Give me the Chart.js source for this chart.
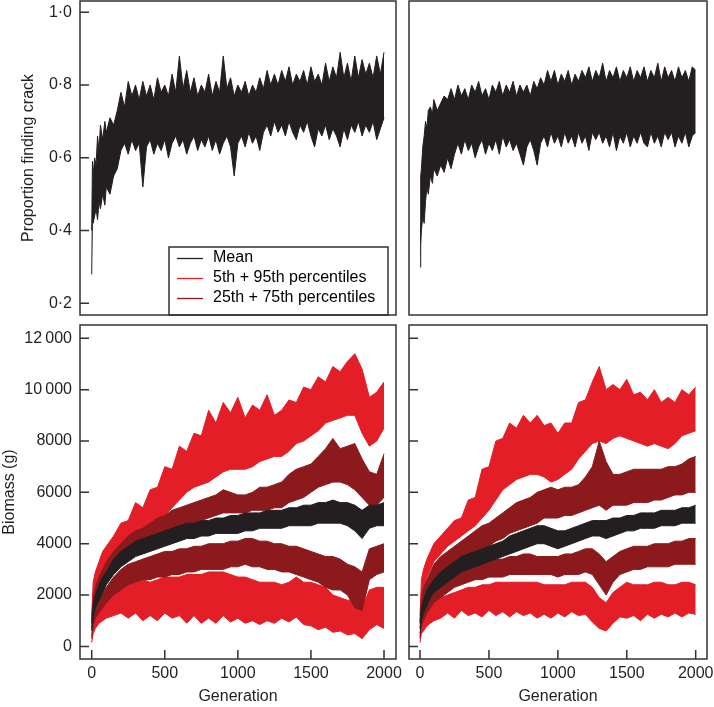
<!DOCTYPE html>
<html>
<head>
<meta charset="utf-8">
<script src="https://cdn.jsdelivr.net/npm/chart.js@4.4.1/dist/chart.umd.min.js"></script>
<style>
  html, body { margin: 0; padding: 0; background: #fff; overflow: hidden; }
  #wrap { position: relative; width: 714px; height: 707px; }
  #wrap canvas { position: absolute; left: 0; top: 0; }
</style>
</head>
<body>
<div id="wrap">
  <canvas id="topLeft" width="714" height="707"></canvas>
  <canvas id="topRight" width="714" height="707"></canvas>
  <canvas id="bottomLeft" width="714" height="707"></canvas>
  <canvas id="bottomRight" width="714" height="707"></canvas>
</div>
<script>
var proportionGenerations = [0,5,10,20,30,40,50,60,75,90,100,125,150,175,
	200,225,250,275,300,325,350,375,400,425, 450,475,500,525,550,575,600,625,650,675,
	700,725,750,775,800,825,850,875,900,925, 950,975,1000,1025,1050,1075,1100,1125,1150,1175,
	1200,1225,1250,1275,1300,1325,1350,1375,1400,1425, 1450,1475,1500,1525,1550,1575,1600,1625,1650,1675,
	1700,1725,1750,1775,1800,1825,1850,1875,1900,1925, 1950,1975,2000];

// proportion finding crack (mean), lower / upper edge of the noisy trace
var tlMeanLow = [0.28,0.43,0.42,0.44,0.46,0.43,0.48,0.46,0.50,0.47,0.52,0.50,0.55,0.57,
	0.62,0.64,0.61,0.65,0.62,0.64,0.52,0.63,0.65,0.61, 0.64,0.62,0.65,0.60,0.64,0.66,0.63,0.65,0.61,0.64,
	0.66,0.62,0.65,0.63,0.66,0.62,0.65,0.61,0.64,0.66, 0.63,0.55,0.64,0.66,0.63,0.67,0.64,0.66,0.62,0.67,
	0.69,0.66,0.70,0.67,0.69,0.66,0.70,0.67,0.65,0.69, 0.67,0.70,0.66,0.63,0.68,0.66,0.69,0.65,0.68,0.66,
	0.63,0.68,0.65,0.69,0.67,0.70,0.66,0.69,0.67,0.70, 0.65,0.68,0.71];
var tlMeanHigh = [0.40,0.59,0.55,0.60,0.58,0.66,0.62,0.69,0.65,0.70,0.67,0.71,0.69,0.73,
	0.78,0.74,0.81,0.77,0.80,0.76,0.81,0.77,0.80,0.76, 0.82,0.78,0.80,0.77,0.83,0.78,0.88,0.79,0.84,0.78,
	0.82,0.77,0.80,0.78,0.83,0.77,0.81,0.78,0.88,0.79, 0.82,0.77,0.80,0.78,0.81,0.77,0.80,0.78,0.82,0.79,
	0.84,0.80,0.83,0.80,0.84,0.81,0.85,0.80,0.83,0.81, 0.84,0.80,0.85,0.81,0.83,0.80,0.86,0.81,0.85,0.82,
	0.89,0.82,0.86,0.81,0.88,0.82,0.87,0.83,0.86,0.82, 0.88,0.83,0.89];
var trMeanLow = [0.30,0.36,0.40,0.44,0.42,0.48,0.52,0.50,0.55,0.53,0.57,0.55,0.58,0.56,
	0.60,0.57,0.61,0.64,0.61,0.65,0.62,0.64,0.60,0.63, 0.65,0.61,0.64,0.62,0.65,0.61,0.66,0.63,0.65,0.62,
	0.64,0.61,0.58,0.63,0.65,0.62,0.58,0.64,0.66,0.63, 0.67,0.64,0.66,0.63,0.67,0.64,0.66,0.63,0.67,0.64,
	0.66,0.62,0.67,0.65,0.67,0.64,0.66,0.63,0.67,0.62, 0.66,0.64,0.67,0.63,0.66,0.64,0.67,0.64,0.63,0.67,
	0.64,0.66,0.63,0.67,0.65,0.67,0.63,0.66,0.64,0.67, 0.63,0.66,0.67];
var trMeanHigh = [0.42,0.55,0.57,0.63,0.66,0.70,0.68,0.73,0.74,0.72,0.76,0.73,0.75,0.77,
	0.76,0.79,0.76,0.80,0.77,0.79,0.76,0.80,0.78,0.81, 0.77,0.79,0.76,0.80,0.78,0.81,0.77,0.80,0.78,0.81,
	0.77,0.80,0.78,0.80,0.77,0.81,0.79,0.82,0.80,0.84, 0.81,0.84,0.80,0.83,0.81,0.84,0.80,0.83,0.81,0.84,
	0.82,0.85,0.81,0.84,0.82,0.86,0.81,0.84,0.82,0.85, 0.81,0.84,0.82,0.85,0.81,0.84,0.82,0.85,0.81,0.84,
	0.82,0.86,0.81,0.85,0.82,0.84,0.81,0.85,0.82,0.84, 0.81,0.85,0.84];

var generations = [0,10,25,50,75,100,150, 200,250,300,350,400,450,500,550,600,650, 700,750,800,850,900,950,1000,1050,1100,1150, 1200,1250,1300,1350,1400,1450,1500,1550,1600,1650, 1700,1750,1800,1850,1900,1950,2000];

// biomass (g), left panel
var blP95Low  = [900,1700,2100,2500,2800,3000,3600, 3900,4200,4400,4600,4700,4900,5100,5400,5700,6000, 6200,6300,6400,6600,6800,6900,6900,6900,7000,7200, 7300,7400,7400,7600,7900,8000,8200,8400,8700,8800, 8900,9000,9000,8300,7800,8000,8500];
var blP95High = [1200,2500,2900,3300,3700,3900,4300, 4800,4900,5600,5400,6100,6200,7000,6900,7800,7600, 8300,8200,9200,8700,9500,9100,9700,8900,9400,9200, 9800,9000,9200,9600,9500,10100,10000,10500,10300,10900, 10700,11100,11400,10800,9700,9900,10300];
var blP75Low  = [700,1300,1700,2100,2300,2600,3000, 3300,3500,3700,3900,4000,4200,4300,4500,4600,4700, 4800,4900,5000,5100,5200,5200,5200,5200,5300,5300, 5300,5400,5400,5600,5700,5800,6000,6200,6300,6400, 6400,6300,6100,5800,5500,5500,5800];
var blP75High = [1000,1900,2300,2700,3000,3300,3700, 4000,4300,4500,4600,4800,5000,5100,5300,5400,5500, 5600,5700,5800,5900,6100,6000,5900,5900,6000,6200, 6200,6300,6400,6700,6900,7000,7100,7400,7700,8100, 7700,7800,7900,7300,6800,6700,7500];
var blMeanLow  = [600,1100,1500,1800,2100,2400,2800, 3100,3300,3500,3600,3700,3800,3900,4000,4100,4200, 4200,4300,4300,4400,4400,4400,4400,4500,4500,4600, 4600,4600,4600,4700,4700,4700,4700,4800,4800,4800, 4800,4700,4500,4200,4600,4700,4700];
var blMeanHigh = [900,1600,2000,2400,2700,2900,3400, 3700,3900,4100,4200,4300,4400,4500,4600,4700,4800, 4800,4900,4900,5000,5000,5100,5100,5200,5200,5200, 5300,5300,5300,5400,5400,5500,5500,5600,5600,5700, 5600,5600,5500,5300,5500,5500,5600];
var blP25Low  = [300,800,1100,1300,1500,1700,2000, 2200,2400,2500,2600,2600,2700,2700,2800,2800,2900, 2900,3000,3000,3000,3000,3100,3100,3200,3100,3100, 3000,3000,2900,2900,2800,2700,2600,2500,2300,2200, 2200,2000,1500,1400,2600,2800,2900];
var blP25High = [700,1300,1600,1900,2100,2300,2700, 3000,3200,3300,3400,3500,3600,3700,3700,3800,3800, 3900,3900,4000,4000,4000,4100,4100,4200,4200,4100, 4100,4000,4000,3900,3900,3800,3700,3600,3500,3500, 3400,3200,3100,2900,3800,3900,4000];
var blP5Low  = [150,500,700,900,1000,1100,1200, 1300,1100,1300,1000,1200,1000,1300,1100,1200,900, 1200,900,1100,900,1200,950,1100,900,1000,850, 1000,900,1100,950,1150,850,800,650,750,550, 600,450,500,300,650,850,700];
var blP5High = [400,1000,1300,1600,1800,2000,2200, 2300,2400,2500,2600,2500,2600,2700,2700,2700,2800, 2800,2800,2900,2900,2900,2800,2700,2700,2600,2500, 2500,2500,2400,2500,2700,2500,2500,2400,2300,2000, 1900,1800,1800,1500,2200,2300,2300];

// biomass (g), right panel
var brP95Low  = [900,1800,2300,2700,3000,3300,3600, 3900,4100,4300,4500,4700,5000,5300,5700,6100,6300, 6500,6600,6700,6700,6600,6400,6500,6700,6900,7300, 7600,7900,8000,7900,8100,8200,8100,8000,7900,7800, 7900,7800,7700,7900,8200,8300,8400];
var brP95High = [1200,2600,3000,3400,3700,4000,4300, 4600,4900,5000,5700,5800,6900,7000,8000,8100,8700, 8500,9000,8700,9000,8600,8700,8300,8700,8700,9500, 9600,10300,10900,10000,10200,10000,10400,9800,9900,9600, 10000,9500,9700,9500,10000,9800,10100];
var brP75Low  = [700,1300,1700,2000,2300,2500,2800, 3000,3200,3400,3500,3700,3800,3900,4100,4200,4400, 4500,4600,4700,4800,5000,5000,5000,5100,5100,5200, 5300,5400,5500,5300,5500,5500,5500,5600,5600,5600, 5700,5700,5800,5900,5900,6000,6000];
var brP75High = [1000,1900,2300,2600,2900,3200,3500, 3700,3900,4100,4300,4500,4700,4800,5000,5200,5400, 5600,5700,5800,6000,6100,6200,6100,6200,6200,6300, 6600,7000,8000,7200,6700,6700,6800,6900,6900,6900, 6900,6900,7000,7000,7100,7300,7400];
var brMeanLow  = [500,1000,1300,1600,1900,2100,2300, 2500,2700,2900,3000,3100,3200,3300,3400,3500,3600, 3700,3800,3900,4000,4000,3900,3800,3900,4000,4100, 4200,4300,4300,4200,4300,4400,4500,4500,4600,4600, 4600,4700,4700,4700,4800,4800,4800];
var brMeanHigh = [900,1500,1800,2200,2400,2600,2900, 3100,3300,3500,3600,3700,3800,3900,4000,4100,4300, 4400,4500,4600,4700,4700,4600,4500,4500,4600,4700, 4800,4900,4900,4900,5000,5000,5100,5100,5200,5200, 5200,5300,5300,5300,5400,5400,5500];
var brP25Low  = [300,800,1000,1300,1500,1700,1900, 2100,2300,2400,2500,2600,2600,2700,2700,2700,2800, 2800,2800,2800,2800,2800,2800,2700,2800,2800,2800, 2900,2800,2400,2000,2500,2800,2900,3000,3000,3100, 3100,3100,3100,3200,3200,3200,3200];
var brP25High = [700,1200,1500,1800,2000,2200,2500, 2700,2900,3000,3100,3200,3300,3400,3400,3400,3500, 3500,3600,3600,3500,3500,3500,3500,3600,3600,3700, 3800,3800,3600,3300,3500,3700,3800,3900,3900,3900, 4000,4000,4000,4100,4100,4200,4200];
var brP5Low  = [150,500,600,800,900,1000,1100, 1300,1100,1400,1200,1300,1150,1400,1200,1350,1150, 1350,1200,1300,1100,1250,1100,1300,1150,1350,1200, 1250,950,700,600,900,1150,1100,1200,1000,1250, 1100,1250,1150,1300,1150,1300,1250];
var brP5High = [400,900,1100,1400,1600,1700,1900, 2000,2100,2200,2300,2300,2400,2400,2500,2500,2500, 2500,2500,2500,2500,2400,2400,2400,2400,2500,2500, 2500,2300,1900,1700,2100,2300,2500,2400,2400,2400, 2500,2500,2400,2400,2500,2500,2400];

// axes
var proportionTicks = [0.2, 0.4, 0.6, 0.8, 1.0];
var proportionTickLabels = ['0·2', '0·4', '0·6', '0·8', '1·0'];
var biomassTicks = [0, 2000, 4000, 6000, 8000, 10000, 12000];
var biomassTickLabels = ['0', '2000', '4000', '6000', '8000', '10\u2009000', '12\u2009000'];
var generationTicks = [0, 500, 1000, 1500, 2000];
var generationTickLabels = ['0', '500', '1000', '1500', '2000'];

var legendLabels = ['Mean', '5th + 95th percentiles', '25th + 75th percentiles'];

var ink = '#231f20';
var red = '#e31e26';
var darkRed = '#8c1a1d';
var legendColors = [ink, red, darkRed];

Chart.defaults.font.family = '"Liberation Sans", Arial, Helvetica, sans-serif';
Chart.defaults.font.size = 16;
Chart.defaults.color = ink;
Chart.defaults.animation = false;

function points(xs, arr) {
	return arr.map(function (v, i) { return {x: xs[i], y: v}; });
}

function band(xs, low, high, color) {
	return [
		{data: points(xs, low), borderColor: color, backgroundColor: color, borderWidth: 1, pointRadius: 0, fill: false},
		{data: points(xs, high), borderColor: color, backgroundColor: color, borderWidth: 1, pointRadius: 0, fill: '-1'}
	];
}

// frame round each panel, inward tick marks, legend box and legend line samples
var panelFrame = {
	id: 'panelFrame',
	afterDraw: function (chart, args, opts) {
		var ctx = chart.ctx, a = chart.chartArea;
		ctx.save();
		ctx.strokeStyle = '#333';
		ctx.lineWidth = 1.5;
		ctx.strokeRect(a.left, a.top, a.right - a.left, a.bottom - a.top);
		ctx.beginPath();
		if (opts.yTicks) {
			chart.scales.y.ticks.forEach(function (t) {
				var y = chart.scales.y.getPixelForValue(t.value);
				ctx.moveTo(a.left, y);
				ctx.lineTo(a.left + 9, y);
			});
		}
		if (opts.xTicks) {
			chart.scales.x.ticks.forEach(function (t) {
				var x = chart.scales.x.getPixelForValue(t.value);
				ctx.moveTo(x, a.bottom);
				ctx.lineTo(x, a.bottom - 9);
			});
		}
		ctx.stroke();
		if (opts.legendFrame && chart.legend) {
			var lg = chart.legend;
			var pad = lg.options.labels.padding;
			var size = Chart.defaults.font.size;
			ctx.strokeRect(lg.left - 4, lg.top + 1, a.right - 8 - (lg.left - 4), a.bottom - lg.top - 1);
			legendColors.forEach(function (c, i) {
				var y = Math.round(lg.top + pad + size / 2 + i * (size + pad)) + 0.5;
				ctx.beginPath();
				ctx.strokeStyle = c;
				ctx.lineWidth = 1.3;
				ctx.moveTo(lg.left + pad, y);
				ctx.lineTo(lg.left + pad + 26, y);
				ctx.stroke();
			});
		}
		ctx.restore();
	}
};

// move the legend to the lower right corner of the panel
var legendPlacer = {
	id: 'legendPlacer',
	afterLayout: function (chart) {
		var lg = chart.legend;
		if (!lg || !lg.options.display) return;
		var a = chart.chartArea;
		lg.left = a.left + 93;
		lg.top = a.top + 245;
		lg.right = lg.left + lg.width;
		lg.bottom = a.bottom;
	}
};

function yAxis(ticks, labels, min, max, show, title, titlePad) {
	return {
		type: 'linear',
		min: min,
		max: max,
		display: show,
		afterBuildTicks: function (s) { s.ticks = ticks.map(function (v) { return {value: v}; }); },
		afterFit: function (s) { s.width = show ? 80 : 0; s.paddingTop = 0; s.paddingBottom = 0; },
		grid: {display: false, drawTicks: false},
		border: {display: false},
		ticks: {padding: 8, callback: function (v, i) { return labels[i]; }},
		title: {display: !!title, text: title, padding: {top: titlePad, bottom: 0}}
	};
}

function xAxis(show) {
	return {
		type: 'linear',
		min: -80,
		max: 2082,
		display: show,
		afterBuildTicks: function (s) { s.ticks = generationTicks.map(function (v) { return {value: v}; }); },
		afterFit: function (s) { s.height = show ? 48 : 0; s.paddingLeft = 0; s.paddingRight = 0; },
		grid: {display: false, drawTicks: false},
		border: {display: false},
		ticks: {padding: 5, maxRotation: 0, autoSkip: false, callback: function (v, i) { return generationTickLabels[i]; }},
		title: {display: true, text: 'Generation', padding: {top: 0, bottom: 1}}
	};
}

function drawPanel(elementId, datasets, scales, padding, frameOpts, legend) {
	var context = document.getElementById(elementId).getContext('2d');
	return new Chart(context, {
		type: 'line',
		data: {datasets: datasets},
		options: {
			responsive: false,
			devicePixelRatio: 1,
			layout: {padding: padding},
			scales: scales,
			plugins: {
				tooltip: {enabled: false},
				legend: legend,
				panelFrame: frameOpts
			}
		},
		plugins: [panelFrame, legendPlacer]
	});
}

// the legend writes the labels; the line samples are drawn by panelFrame
var legendOptions = {
	display: true,
	position: 'chartArea',
	align: 'start',
	labels: {
		boxWidth: 28,
		boxHeight: 0,
		padding: 4,
		color: ink,
		generateLabels: function () {
			return legendLabels.map(function (text, i) {
				return {text: text, fillStyle: 'rgba(0,0,0,0)', strokeStyle: 'rgba(0,0,0,0)', lineWidth: 0, hidden: false, datasetIndex: i};
			});
		}
	}
};

drawPanel('topLeft', band(proportionGenerations, tlMeanLow, tlMeanHigh, ink),
	{x: xAxis(false), y: yAxis(proportionTicks, proportionTickLabels, 0.168, 1.031, true, 'Proportion finding crack', 19)},
	{left: 0, top: 1, right: 318, bottom: 392},
	{yTicks: true, xTicks: false, legendFrame: true}, legendOptions);

drawPanel('topRight', band(proportionGenerations, trMeanLow, trMeanHigh, ink),
	{x: xAxis(false), y: yAxis(proportionTicks, proportionTickLabels, 0.168, 1.031, false, '', 0)},
	{left: 409, top: 1, right: 7, bottom: 392},
	{yTicks: false, xTicks: false, legendFrame: false}, {display: false});

drawPanel('bottomLeft',
	[].concat(band(generations, blMeanLow, blMeanHigh, ink), band(generations, blP25Low, blP25High, darkRed),
		band(generations, blP75Low, blP75High, darkRed), band(generations, blP5Low, blP5High, red),
		band(generations, blP95Low, blP95High, red)),
	{x: xAxis(true), y: yAxis(biomassTicks, biomassTickLabels, -490, 12517, true, 'Biomass (g)', 0)},
	{left: 0, top: 325, right: 318, bottom: 0},
	{yTicks: true, xTicks: true, legendFrame: false}, {display: false});

drawPanel('bottomRight',
	[].concat(band(generations, brMeanLow, brMeanHigh, ink), band(generations, brP25Low, brP25High, darkRed),
		band(generations, brP75Low, brP75High, darkRed), band(generations, brP5Low, brP5High, red),
		band(generations, brP95Low, brP95High, red)),
	{x: xAxis(true), y: yAxis(biomassTicks, biomassTickLabels, -490, 12517, false, '', 0)},
	{left: 409, top: 325, right: 7, bottom: 0},
	{yTicks: true, xTicks: true, legendFrame: false}, {display: false});
</script>
</body>
</html>
